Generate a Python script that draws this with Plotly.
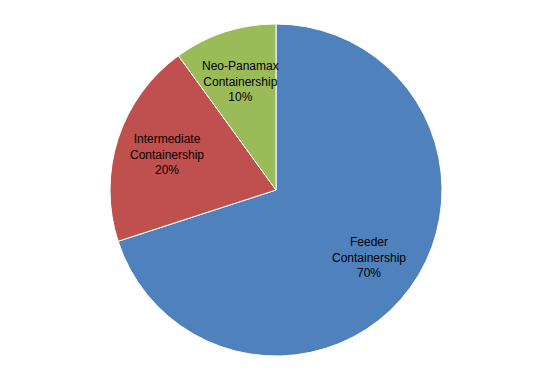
import math
import plotly.graph_objects as go

labels = ["Feeder<br>Containership", "Intermediate<br>Containership", "Neo-Panamax<br>Containership"]
values = [70, 20, 10]
colors = ["#4F81BD", "#C0504D", "#9BBB59"]

W, H = 543, 376
# pie box in figure pixels (figure sits 8px inside the page)
X0, X1, Y0, Y1 = 102, 434, 16, 348
R = (X1 - X0) / 2
dom_x = [X0 / W, X1 / W]
dom_y = [1 - Y1 / H, 1 - Y0 / H]

fig = go.Figure(go.Pie(
    labels=labels,
    values=values,
    sort=False,
    direction="clockwise",
    rotation=0,
    marker=dict(colors=colors, line=dict(color="white", width=1)),
    textinfo="none",
    hoverinfo="label+percent",
    domain=dict(x=dom_x, y=dom_y),
    showlegend=False,
))

cx = sum(dom_x) / 2
cy = sum(dom_y) / 2
total = sum(values)
cum = 0
for lab, v in zip(labels, values):
    mid = (cum + v / 2) / total * 2 * math.pi
    cum += v
    rr = 0.69 * R
    fig.add_annotation(
        x=cx + rr * math.sin(mid) / W,
        y=cy + rr * math.cos(mid) / H,
        xref="paper", yref="paper",
        text=f"{lab}<br>{round(v / total * 100)}%",
        showarrow=False,
        xanchor="center", yanchor="middle",
        font=dict(family="Liberation Sans, Arial, sans-serif", size=12, color="#000000"),
    )

fig.update_layout(
    width=W, height=H,
    margin=dict(l=0, r=0, t=0, b=0),
    paper_bgcolor="white",
    plot_bgcolor="white",
)
fig.write_html("out.html")
